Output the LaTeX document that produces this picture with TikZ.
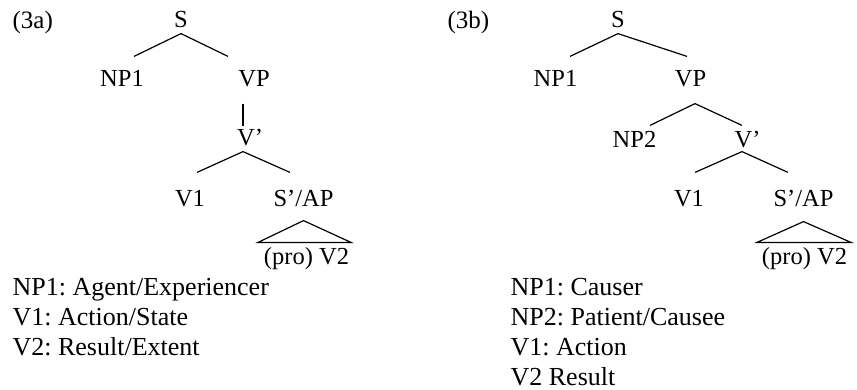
\documentclass[tikz,border=0pt]{standalone}
\usepackage{fontspec}
\setmainfont{Liberation Serif}
\usetikzlibrary{positioning}
\frenchspacing

\begin{document}
\begin{tikzpicture}[x=1pt,y=-1pt,line width=1.2pt]
  \tikzstyle{cat}=[anchor=base,inner sep=0pt,text height=29pt,text depth=6pt,font=\fontsize{24.5}{29}\selectfont]
  \tikzstyle{tag}=[anchor=base west,inner sep=0pt,font=\fontsize{25}{30}\selectfont]
  \tikzstyle{gloss}=[anchor=base west,inner sep=0pt,font=\fontsize{26}{30}\selectfont]
  \useasboundingbox (0,0) rectangle (857,389);

  % (3a)
  \node[tag]   (Ta)   at (12,28)    {(3a)};
  \node[cat]   (Sa)   at (181,27)   {S};
  \node[cat]   (NPa)  at (122,86)   {NP1};
  \node[cat]   (VPa)  at (254,86)   {VP};
  \node[cat]   (Va)   at (250,145)  {V’};
  \node[cat]   (V1a)  at (190,206)  {V1};
  \node[cat]   (SAPa) at (303.5,206) {S’/AP};
  \node[cat]   (Pa)   at (306.5,264) {(pro) V2};

  \path (Sa.south) edge ([xshift=12pt]NPa.north)
                   edge ([xshift=-26pt]VPa.north)
        ([xshift=-11pt,yshift=-11pt]VPa.south) edge ([xshift=-7pt,yshift=-11pt]Va.north)
        ([xshift=-7pt]Va.south) edge ([xshift=7pt,yshift=4pt]V1a.north)
                                edge ([xshift=-13.5pt,yshift=4pt]SAPa.north);
  \draw ([yshift=-8pt]SAPa.south) -- ([xshift=-48.5pt,yshift=-8pt]Pa.north)
        -- ([xshift=44.5pt,yshift=-8pt]Pa.north) -- cycle;

  \node[gloss] (La1)  at (12,295)   {NP1: Agent/Experiencer};
  \node[gloss] (La2)  at (12,325)   {V1: Action/State};
  \node[gloss] (La3)  at (12,355)   {V2: Result/Extent};

  % (3b)
  \node[tag]   (Tb)   at (447,28)   {(3b)};
  \node[cat]   (Sb)   at (618,27)   {S};
  \node[cat]   (NPb)  at (555.5,86) {NP1};
  \node[cat]   (VPb)  at (690.5,86) {VP};
  \node[cat]   (NP2b) at (634.5,147) {NP2};
  \node[cat]   (Vb)   at (747.5,147) {V’};
  \node[cat]   (V1b)  at (689,206)  {V1};
  \node[cat]   (SAPb) at (803.5,206) {S’/AP};
  \node[cat]   (Pb)   at (804.5,264) {(pro) V2};

  \path (Sb.south) edge ([xshift=14.5pt]NPb.north)
                   edge ([xshift=-3.5pt]VPb.north)
        ([xshift=4.5pt,yshift=-11pt]VPb.south) edge ([xshift=15.5pt,yshift=-8pt]NP2b.north)
                                               edge ([xshift=-5.5pt,yshift=-8pt]Vb.north)
        ([xshift=-5.5pt,yshift=2pt]Vb.south) edge ([xshift=6pt,yshift=4pt]V1b.north)
                                             edge ([xshift=-15.5pt,yshift=4pt]SAPb.north);
  \draw ([yshift=-9pt]SAPb.south) -- ([xshift=-47.5pt,yshift=-8pt]Pb.north)
        -- ([xshift=46.5pt,yshift=-8pt]Pb.north) -- cycle;

  \node[gloss] (Lb1)  at (510,295)  {NP1: Causer};
  \node[gloss] (Lb2)  at (510,325)  {NP2: Patient/Causee};
  \node[gloss] (Lb3)  at (510,355)  {V1: Action};
  \node[gloss] (Lb4)  at (510,385)  {V2 Result};
\end{tikzpicture}
\end{document}
